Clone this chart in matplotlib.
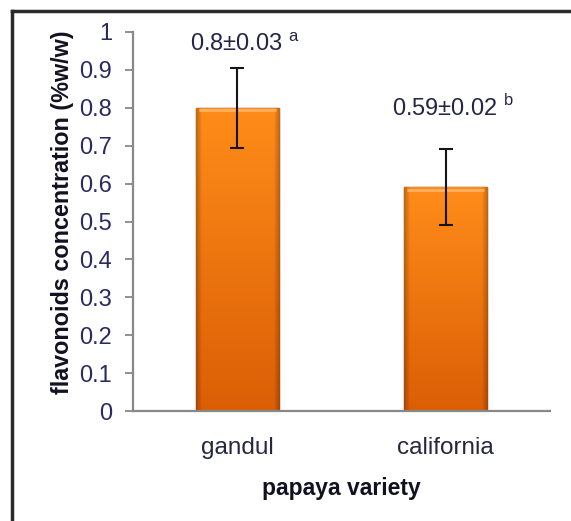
import matplotlib
matplotlib.use("Agg")
import matplotlib.pyplot as plt
import numpy as np
from matplotlib.lines import Line2D

plt.rcParams['font.family'] = ['Liberation Sans', 'DejaVu Sans']
plt.rcParams['mathtext.fontset'] = 'custom'
plt.rcParams['mathtext.rm'] = 'Liberation Sans'

categories = ["gandul", "california"]
values = [0.80, 0.59]
errors = [0.105, 0.10]
labels = ["0.8±0.03", "0.59±0.02"]
letters = ["a", "b"]
yticks = [0, 0.1, 0.2, 0.3, 0.4, 0.5, 0.6, 0.7, 0.8, 0.9, 1]
ytick_labels = ["0", "0.1", "0.2", "0.3", "0.4", "0.5", "0.6", "0.7", "0.8", "0.9", "1"]

# annotation anchor heights (layout)
label_y = [0.966, 0.80]

W, H = 571, 521
fig = plt.figure(figsize=(W/100, H/100), dpi=100)
ax = fig.add_axes([133/W, 1-411/H, (550-133)/W, (411-32)/H])

x = np.arange(len(categories))
bars = ax.bar(x, values, width=0.4, color='#EE7410', edgecolor='#6E2C00', linewidth=1.0, zorder=2)

# bevelled gradient fill inside each bar
nx, ny = 120, 200
gx = np.linspace(0, 1, nx)
gy = np.linspace(0, 1, ny)[:, None]  # 0 bottom -> 1 top
top_col = np.array([1.0, 0.55, 0.10])
bot_col = np.array([0.86, 0.37, 0.02])
base = bot_col + (top_col - bot_col) * gy[..., None]
base = np.repeat(base, nx, axis=1)
edge = np.minimum(gx, 1 - gx)
shade = 0.75 + 0.25 * np.clip(edge / 0.07, 0, 1)
img = base * shade[None, :, None]
for b in bars:
    bx, by = b.get_x(), b.get_y()
    bw, bh = b.get_width(), b.get_height()
    im = ax.imshow(np.clip(img, 0, 1), origin='lower', aspect='auto',
                   extent=[bx, bx+bw, by, by+bh], zorder=2.5, interpolation='bilinear')
    im.set_clip_path(b)
    # light top bevel
    ax.plot([bx + bw*0.04, bx + bw*0.96], [by + bh - 0.006, by + bh - 0.006],
            color='#FFB060', linewidth=2, zorder=2.6, solid_capstyle='butt')

ax.errorbar(x, values, yerr=errors, fmt='none', ecolor='#151515', elinewidth=1.5,
            capsize=5, capthick=1.5, zorder=3)

for xi, ly, lab, let in zip(x, label_y, labels, letters):
    ax.text(xi + 0.035, ly, lab + r" $^{\mathrm{" + let + "}}$", ha='center', va='center',
            fontsize=17, color='#252545')

ax.set_xlim(-0.5, 1.5)
ax.set_ylim(0, 1)
ax.set_yticks(yticks)
ax.set_yticklabels(ytick_labels, fontsize=17, color='#2a2a62')
ax.set_xticks(x)
ax.set_xticklabels(categories, fontsize=17.5, color='#262640')
ax.tick_params(axis='x', length=0, pad=19)
ax.tick_params(axis='y', length=6, width=1.3, color='#888888', pad=9)
for s in ['top', 'right']:
    ax.spines[s].set_visible(False)
for s in ['left', 'bottom']:
    ax.spines[s].set_color('#888888')
    ax.spines[s].set_linewidth(1.6)

ax.set_xlabel("papaya variety", fontsize=16.5, fontweight='bold', color='#111122', labelpad=13)
ax.set_ylabel("flavonoids concentration (%w/w)", fontsize=16.8, fontweight='bold', color='#111122',
              va='center')
ax.yaxis.set_label_coords(-0.17, 0.525)

# outer frame (left and top visible)
fig.add_artist(Line2D([12/W, 12/W], [0, 1-11/H], color='#2a2a2a', linewidth=2.5, transform=fig.transFigure))
fig.add_artist(Line2D([12/W, 1], [1-11/H, 1-11/H], color='#2a2a2a', linewidth=2.5, transform=fig.transFigure))

fig.savefig("out.png", dpi=100)
